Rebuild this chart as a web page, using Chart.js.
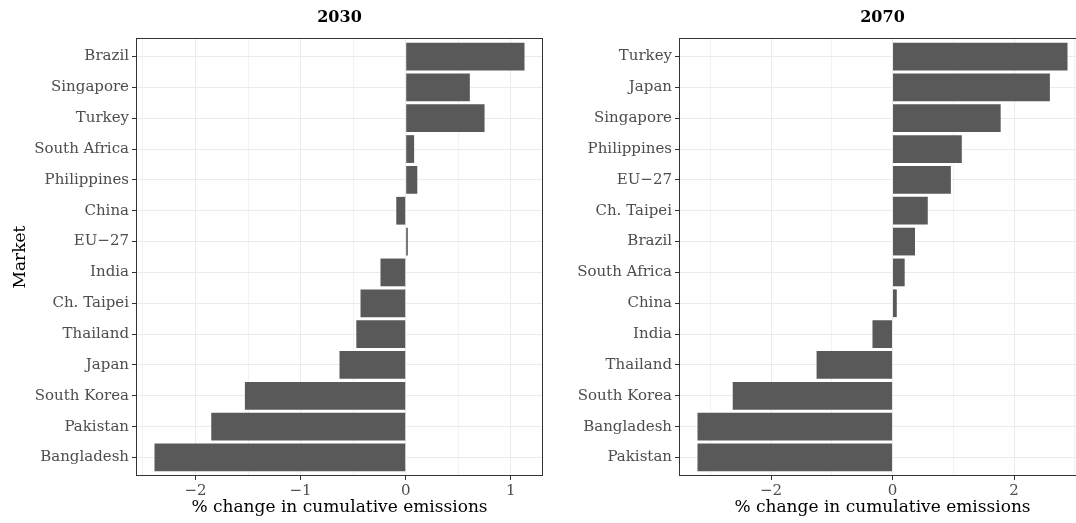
<!DOCTYPE html>
<html>
<head>
<meta charset="utf-8">
<script src="https://cdn.jsdelivr.net/npm/chart.js@4"></script>
<style>
  html, body { margin: 0; padding: 0; background: #fff; overflow: hidden; width: 1076px; height: 523px; }
  canvas { position: absolute; top: 0; }
  #c2030 { left: 0; }
  #c2070 { left: 548px; }
</style>
</head>
<body>
<canvas id="c2030" width="548" height="523"></canvas>
<canvas id="c2070" width="545" height="523"></canvas>
<script>
// Markets, top to bottom, and % change in cumulative emissions
const markets2030 = ['Brazil', 'Singapore', 'Turkey', 'South Africa', 'Philippines', 'China', 'EU\u221227',
  'India', 'Ch. Taipei', 'Thailand', 'Japan', 'South Korea', 'Pakistan', 'Bangladesh'];
const change2030 = [1.13, 0.61, 0.75, 0.08, 0.11, -0.09, 0.02, -0.24, -0.43, -0.47, -0.63, -1.53, -1.85, -2.39];

const markets2070 = ['Turkey', 'Japan', 'Singapore', 'Philippines', 'EU\u221227', 'Ch. Taipei', 'Brazil',
  'South Africa', 'China', 'India', 'Thailand', 'South Korea', 'Bangladesh', 'Pakistan'];
const change2070 = [2.88, 2.59, 1.78, 1.14, 0.96, 0.58, 0.37, 0.20, 0.07, -0.33, -1.25, -2.63, -3.21, -3.21];

// Grid positions (major + minor) and the labelled ticks
const gridTicks2030 = [-2.5, -2, -1.5, -1, -0.5, 0, 0.5, 1];
const labelTicks2030 = [-2, -1, 0, 1];
const gridTicks2070 = [-3, -2, -1, 0, 1, 2, 3];
const labelTicks2070 = [-2, 0, 2];

Chart.defaults.font.family = "'DejaVu Serif', serif";

const fmt = v => (v < 0 ? '\u2212' + Math.abs(v) : String(v));

// Full box around the panel, drawn over the bars
const panelBorder = {
  id: 'panelBorder',
  afterDatasetsDraw(chart) {
    const { ctx, chartArea: a } = chart;
    ctx.save();
    ctx.strokeStyle = '#333333';
    ctx.lineWidth = 1;
    ctx.strokeRect(a.left + 0.5, a.top + 0.5, a.right - a.left - 1, a.bottom - a.top - 1);
    ctx.restore();
  }
};

function makePanel(id, title, markets, values, gridTicks, labelTicks, showYTitle, yWidth, padRight) {
  const lo = Math.min(0, ...values);
  const hi = Math.max(0, ...values);
  const pad = 0.05 * (hi - lo);
  const isLabel = c => c.tick && labelTicks.includes(c.tick.value);

  return new Chart(document.getElementById(id), {
    type: 'bar',
    data: {
      datasets: [{
        data: markets.map((m, i) => ({ x: values[i], y: i })),
        backgroundColor: '#595959',
        borderWidth: 0,
        categoryPercentage: 0.9,
        barPercentage: 1
      }]
    },
    options: {
      indexAxis: 'y',
      responsive: false,
      animation: false,
      layout: { padding: { left: 0, right: padRight, top: 0, bottom: 0 } },
      plugins: {
        legend: { display: false },
        tooltip: { enabled: false },
        title: {
          display: true, text: title, fullSize: false, color: '#000',
          font: { size: 16, weight: 'bold' },
          padding: { top: 8, bottom: 10.8 }
        }
      },
      scales: {
        x: {
          type: 'linear',
          min: lo - pad,
          max: hi + pad,
          afterBuildTicks: s => { s.ticks = gridTicks.map(v => ({ value: v })); },
          afterFit: s => { s.height = 47; },
          border: { display: false },
          grid: {
            color: c => (isLabel(c) ? '#EBEBEB' : '#F2F2F2'),
            lineWidth: 1,
            tickLength: 4,
            tickWidth: 1,
            tickColor: c => (isLabel(c) ? '#333333' : 'rgba(0,0,0,0)')
          },
          ticks: {
            autoSkip: false, maxRotation: 0, padding: 2,
            color: '#4D4D4D', font: { size: 15 },
            callback: v => (labelTicks.includes(v) ? fmt(v) : '')
          },
          title: {
            display: true, text: '% change in cumulative emissions', color: '#000',
            font: { size: 17 }, padding: { top: 0, bottom: 5 }
          }
        },
        y: {
          type: 'linear',
          reverse: true,
          offset: false,
          min: -0.6,
          max: markets.length - 1 + 0.6,
          afterBuildTicks: s => { s.ticks = markets.map((m, i) => ({ value: i })); },
          afterFit: s => { s.width = yWidth; },
          border: { display: false },
          grid: { offset: false, color: '#EBEBEB', lineWidth: 1, tickLength: 4, tickWidth: 1, tickColor: '#333333' },
          ticks: {
            autoSkip: false, padding: 3,
            color: '#4D4D4D', font: { size: 15 },
            callback: v => markets[Math.round(v)]
          },
          title: {
            display: showYTitle, text: 'Market', color: '#000',
            font: { size: 17 }, padding: { top: 10, bottom: 0 }
          }
        }
      }
    },
    plugins: [panelBorder]
  });
}

makePanel('c2030', '2030', markets2030, change2030, gridTicks2030, labelTicks2030, true, 136, 5);
makePanel('c2070', '2070', markets2070, change2070, gridTicks2070, labelTicks2070, false, 131, 7);
</script>
</body>
</html>
